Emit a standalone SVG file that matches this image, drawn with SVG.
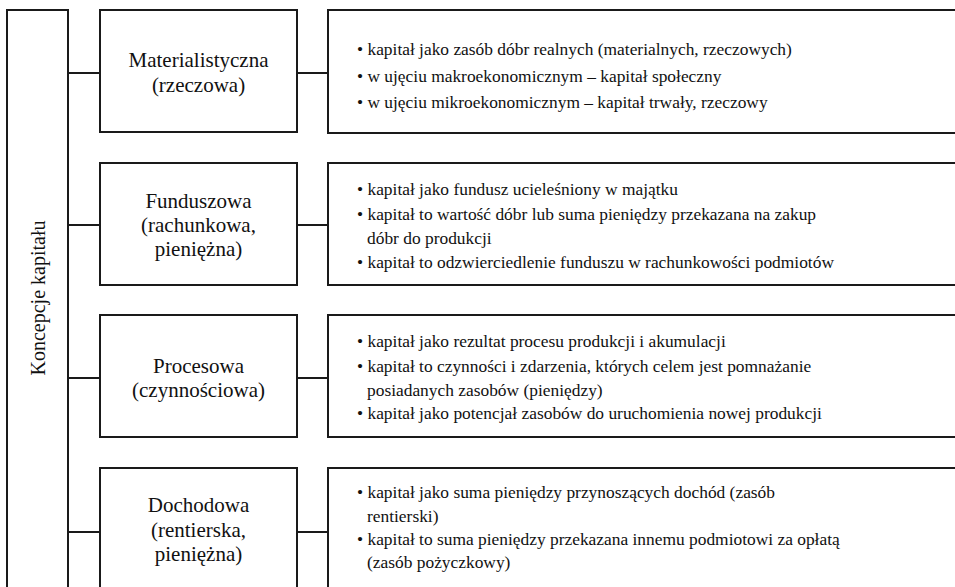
<svg xmlns="http://www.w3.org/2000/svg" width="955" height="587" viewBox="0 0 955 587">
<style>
.box{fill:#fff;stroke:#1a1a1a;stroke-width:2}
.ln{stroke:#1a1a1a;stroke-width:2;fill:none}
text{font-family:"Liberation Serif","Times New Roman",serif;fill:#111}
.mid{font-size:21px;text-anchor:middle}
.rot{font-size:20px;text-anchor:middle}
.det{font-size:17.4px}
</style>
<rect width="955" height="587" fill="#fff"/>
<g id="connectors">
<line class="ln" x1="68" y1="73" x2="100" y2="73"/>
<line class="ln" x1="68" y1="225" x2="100" y2="225"/>
<line class="ln" x1="68" y1="378" x2="100" y2="378"/>
<line class="ln" x1="68" y1="532" x2="100" y2="532"/>
<line class="ln" x1="297" y1="73" x2="328" y2="73"/>
<line class="ln" x1="297" y1="225" x2="328" y2="225"/>
<line class="ln" x1="297" y1="378" x2="328" y2="378"/>
<line class="ln" x1="297" y1="532" x2="328" y2="532"/>
</g>
<g id="root">
<rect class="box" x="7" y="10" width="61" height="600"/>
<text class="rot" transform="translate(45,298) rotate(-90)">Koncepcje kapitału</text>
</g>
<g id="n1">
<rect class="box" x="100" y="10" width="197" height="122"/>
<text class="mid" x="198.5" y="67">Materialistyczna</text>
<text class="mid" x="198.5" y="92">(rzeczowa)</text>
</g>
<g id="d1">
<rect class="box" x="328" y="10" width="640" height="123"/>
<text class="det" x="357" y="55">• kapitał jako zasób dóbr realnych (materialnych, rzeczowych)</text>
<text class="det" x="357" y="82">• w ujęciu makroekonomicznym – kapitał społeczny</text>
<text class="det" x="357" y="108">• w ujęciu mikroekonomicznym – kapitał trwały, rzeczowy</text>
</g>
<g id="n2">
<rect class="box" x="100" y="163" width="197" height="122"/>
<text class="mid" x="198.5" y="208">Funduszowa</text>
<text class="mid" x="198.5" y="232">(rachunkowa,</text>
<text class="mid" x="198.5" y="256">pieniężna)</text>
</g>
<g id="d2">
<rect class="box" x="328" y="163" width="640" height="122"/>
<text class="det" x="357" y="195">• kapitał jako fundusz ucieleśniony w majątku</text>
<text class="det" x="357" y="220">• kapitał to wartość dóbr lub suma pieniędzy przekazana na zakup</text>
<text class="det" x="367" y="244">dóbr do produkcji</text>
<text class="det" x="357" y="268">• kapitał to odzwierciedlenie funduszu w rachunkowości podmiotów</text>
</g>
<g id="n3">
<rect class="box" x="100" y="315" width="197" height="122"/>
<text class="mid" x="198.5" y="373">Procesowa</text>
<text class="mid" x="198.5" y="397">(czynnościowa)</text>
</g>
<g id="d3">
<rect class="box" x="328" y="315" width="640" height="122"/>
<text class="det" x="357" y="347">• kapitał jako rezultat procesu produkcji i akumulacji</text>
<text class="det" x="357" y="372">• kapitał to czynności i zdarzenia, których celem jest pomnażanie</text>
<text class="det" x="367" y="396">posiadanych zasobów (pieniędzy)</text>
<text class="det" x="357" y="419">• kapitał jako potencjał zasobów do uruchomienia nowej produkcji</text>
</g>
<g id="n4">
<rect class="box" x="100" y="468" width="197" height="130"/>
<text class="mid" x="198.5" y="512">Dochodowa</text>
<text class="mid" x="198.5" y="537">(rentierska,</text>
<text class="mid" x="198.5" y="561">pieniężna)</text>
</g>
<g id="d4">
<rect class="box" x="328" y="468" width="640" height="130"/>
<text class="det" x="357" y="498">• kapitał jako suma pieniędzy przynoszących dochód (zasób</text>
<text class="det" x="367" y="522">rentierski)</text>
<text class="det" x="357" y="545">• kapitał to suma pieniędzy przekazana innemu podmiotowi za opłatą</text>
<text class="det" x="367" y="568">(zasób pożyczkowy)</text>
</g>
</svg>
